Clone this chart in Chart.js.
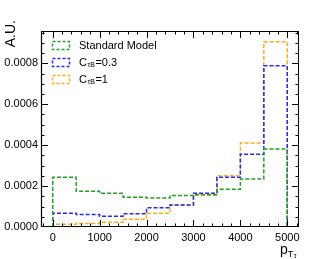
<!DOCTYPE html>
<html>
<head>
<meta charset="utf-8">
<script src="https://cdn.jsdelivr.net/npm/chart.js@4.4.1/dist/chart.umd.min.js"></script>
<style>
html,body{margin:0;padding:0;background:#fff;}
canvas{display:block;}
</style>
</head>
<body>
<canvas id="c" width="332" height="259"></canvas>
<script>
// ---- data ----
const binEdges = [0, 500, 1000, 1500, 2000, 2500, 3000, 3500, 4000, 4500, 5000];
const smValues  = [0.000243, 0.000175, 0.000165, 0.000145, 0.000142, 0.000154, 0.000158, 0.000184, 0.000235, 0.000381];
const c03Values = [0.0000673, 0.000061, 0.0000527, 0.0000644, 0.0000937, 0.000108, 0.000165, 0.000243, 0.000355, 0.000788];
const c1Values  = [0.0000137, 0.000017, 0.0000234, 0.000038, 0.0000673, 0.000108, 0.000157, 0.00025, 0.000411, 0.000905];
const seriesLabels = ['Standard Model', 'C_{τB}=0.3', 'C_{τB}=1'];
const seriesColors = ['#22a022', '#2a2aee', '#ffaa1a'];
const xTickLabels = [0, 1000, 2000, 3000, 4000, 5000];
const yTickLabels = [0, 0.0002, 0.0004, 0.0006, 0.0008];
const xTitle = ['p', 'T', 'τ'];
const yTitle = 'A.U.';

// histogram outline built from bin edges + values
function stepPoints(vals) {
  const pts = [{x: binEdges[0], y: 0}];
  vals.forEach((v, i) => {
    pts.push({x: binEdges[i], y: v});
    pts.push({x: binEdges[i + 1], y: v});
  });
  pts.push({x: binEdges[binEdges.length - 1], y: 0});
  return pts;
}

const FONT = '"Liberation Sans", Arial, Helvetica, sans-serif';

function drawSubLabel(ctx, text, x, y, size) {
  const m = text.match(/^(.*?)_\{(.*?)\}(.*)$/);
  ctx.textBaseline = 'middle';
  ctx.textAlign = 'left';
  ctx.font = size + 'px ' + FONT;
  if (!m) { ctx.fillText(text, x, y); return; }
  ctx.fillText(m[1], x, y);
  let cx = x + ctx.measureText(m[1]).width;
  const sub = Math.round(size * 0.62);
  ctx.font = sub + 'px ' + FONT;
  ctx.fillText(m[2], cx + 0.5, y + 2.5);
  cx += ctx.measureText(m[2]).width + 1;
  ctx.font = size + 'px ' + FONT;
  ctx.fillText(m[3], cx, y);
}

const framePlugin = {
  id: 'rootFrame',
  afterDatasetsDraw(chart) {
    const ctx = chart.ctx;
    const a = chart.chartArea;
    const xs = chart.scales.x, ys = chart.scales.y;
    ctx.save();
    ctx.strokeStyle = '#000';
    ctx.lineWidth = 1;
    ctx.setLineDash([]);
    ctx.strokeRect(Math.round(a.left) + 0.5, Math.round(a.top) + 0.5,
                   Math.round(a.right - a.left) - 1, Math.round(a.bottom - a.top) - 1);
    ctx.lineWidth = 1.2;
    ctx.beginPath();
    ctx.moveTo(a.left + 0.5, a.top); ctx.lineTo(a.left + 0.5, a.bottom);
    ctx.moveTo(a.left, a.bottom - 0.5); ctx.lineTo(a.right, a.bottom - 0.5);
    ctx.stroke();
    ctx.lineWidth = 1;
    ctx.beginPath();
    for (let v = xs.min; v <= xs.max + 1e-6; v += 1) {
      if (v % 200 !== 0) continue;
      const px = Math.round(xs.getPixelForValue(v)) + 0.5;
      if (px <= a.left + 1 || px >= a.right - 1) continue;
      const len = (v % 1000 === 0) ? 7 : 3.5;
      ctx.moveTo(px, a.bottom); ctx.lineTo(px, a.bottom - len);
      ctx.moveTo(px, a.top); ctx.lineTo(px, a.top + len);
    }
    for (let k = 0; ; k++) {
      const v = k * 0.00005;
      if (v > ys.max) break;
      const py = Math.round(ys.getPixelForValue(v)) + 0.5;
      if (py >= a.bottom - 1 || py <= a.top + 1) continue;
      const len = (k % 4 === 0) ? 7 : 3.5;
      ctx.moveTo(a.left, py); ctx.lineTo(a.left + len, py);
      ctx.moveTo(a.right, py); ctx.lineTo(a.right - len, py);
    }
    ctx.stroke();

    // legend
    const rows = [46, 63, 80];
    seriesLabels.forEach((lab, i) => {
      const y = rows[i];
      ctx.strokeStyle = seriesColors[i];
      ctx.lineWidth = 1.5;
      ctx.setLineDash([3, 2]);
      ctx.strokeRect(52.5, y - 4.5, 17, 8);
      ctx.setLineDash([]);
      ctx.fillStyle = '#000';
      drawSubLabel(ctx, lab, 79, y, 11);
    });

    // y title
    ctx.save();
    ctx.translate(15, 20);
    ctx.rotate(-Math.PI / 2);
    ctx.font = '14px ' + FONT;
    ctx.fillStyle = '#000';
    ctx.textAlign = 'right';
    ctx.textBaseline = 'alphabetic';
    ctx.fillText(yTitle, 0, 0);
    ctx.restore();

    // x title p_{T_tau}
    ctx.fillStyle = '#000';
    ctx.textAlign = 'left';
    ctx.textBaseline = 'alphabetic';
    ctx.font = '14px ' + FONT;
    ctx.fillText(xTitle[0], 280, 254);
    let cx = 280 + ctx.measureText(xTitle[0]).width;
    ctx.font = '9px ' + FONT;
    ctx.fillText(xTitle[1], cx, 257);
    cx += ctx.measureText(xTitle[1]).width + 0.5;
    ctx.font = '7px ' + FONT;
    ctx.fillText(xTitle[2], cx, 258);
    ctx.restore();
  }
};

const datasets = [smValues, c03Values, c1Values].map((vals, i) => ({
  label: seriesLabels[i],
  data: stepPoints(vals),
  borderColor: seriesColors[i],
  borderWidth: 1.5,
  borderDash: [4, 2],
  pointRadius: 0,
  fill: false,
  tension: 0
}));

new Chart(document.getElementById('c'), {
  type: 'line',
  data: { datasets },
  plugins: [framePlugin],
  options: {
    responsive: false,
    animation: false,
    devicePixelRatio: 1,
    layout: { padding: { top: 31, right: 33, left: 0, bottom: 0 } },
    plugins: { legend: { display: false }, tooltip: { enabled: false } },
    scales: {
      x: {
        type: 'linear',
        min: -250, max: 5250,
        grid: { display: false, drawTicks: false },
        border: { display: false },
        afterBuildTicks(s) { s.ticks = xTickLabels.map(v => ({ value: v })); },
        afterFit(s) { s.height = 32; },
        ticks: {
          color: '#000', padding: 4, maxRotation: 0, autoSkip: false,
          font: { family: FONT, size: 11 },
          callback: v => String(v)
        }
      },
      y: {
        type: 'linear',
        min: 0, max: 0.000958,
        grid: { display: false, drawTicks: false },
        border: { display: false },
        afterBuildTicks(s) { s.ticks = yTickLabels.map(v => ({ value: v })); },
        afterFit(s) { s.width = 41; },
        ticks: {
          color: '#000', padding: 3, autoSkip: false,
          font: { family: FONT, size: 11 },
          callback: v => Number(v).toFixed(4)
        }
      }
    }
  }
});
</script>
</body>
</html>
